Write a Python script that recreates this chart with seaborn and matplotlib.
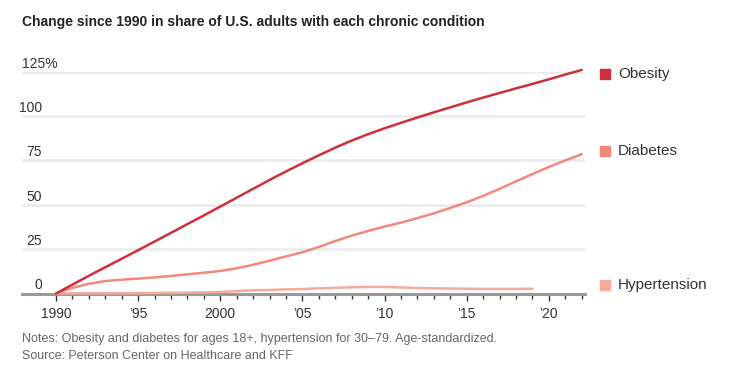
import matplotlib
matplotlib.use("Agg")
import matplotlib.pyplot as plt
import matplotlib.transforms as mtransforms
import pandas as pd
import seaborn as sns

# Values (percent change since 1990)
years = list(range(1990, 2023))
obesity = [0, 5, 10, 14.8, 19.6, 24.4, 29.3, 34.2, 39.1, 44, 49, 54, 59, 64,
           68.8, 73.4, 77.9, 82.2, 86.2, 89.8, 93.1, 96.2, 99.2, 102.1, 104.9,
           107.7, 110.4, 113, 115.6, 118.1, 120.7, 123.4, 126]
diabetes = [0, 3.2, 5.5, 7, 7.8, 8.4, 9.1, 9.9, 10.8, 11.7, 12.7, 14.2, 16.2,
            18.5, 20.9, 23.3, 26.2, 29.6, 32.6, 35.3, 37.7, 40, 42.5, 45.2,
            48.2, 51.4, 55, 59, 63.2, 67.3, 71.3, 75, 78.5]
hyper_years = list(range(1990, 2020))
hypertension = [0, 0.1, 0.1, 0.1, 0.1, 0.2, 0.3, 0.4, 0.5, 0.6, 0.8, 1.4, 1.8,
                2.0, 2.3, 2.5, 2.9, 3.2, 3.5, 3.7, 3.7, 3.4, 3.1, 2.9, 2.8, 2.7,
                2.6, 2.6, 2.6, 2.7]

conditions = ["Obesity", "Diabetes", "Hypertension"]
colors = {"Obesity": "#cf2e3d", "Diabetes": "#f3887a", "Hypertension": "#f6aa9a"}
y_ticks = [0, 25, 50, 75, 100, 125]
x_ticks = [1990, 1995, 2000, 2005, 2010, 2015, 2020]
x_labels = ["1990", "\u201995", "2000", "\u201905", "\u201910", "\u201915", "\u201920"]

df = pd.concat([
    pd.DataFrame({"year": years, "value": obesity, "condition": "Obesity"}),
    pd.DataFrame({"year": years, "value": diabetes, "condition": "Diabetes"}),
    pd.DataFrame({"year": hyper_years, "value": hypertension, "condition": "Hypertension"}),
])

sns.set_theme(style="white")
plt.rcParams["font.family"] = ["Liberation Sans", "DejaVu Sans"]

fig = plt.figure(figsize=(7.34, 3.76), dpi=100)
ax = fig.add_axes([22 / 734, 1 - 293.5 / 376, 563 / 734, (293.5 - 71.7) / 376])

sns.lineplot(data=df, x="year", y="value", hue="condition",
             hue_order=conditions[::-1], palette=colors, linewidth=1.8,
             legend=False, ax=ax, clip_on=False)

ax.set_xlim(1987.93, 2022.2)
ax.set_ylim(0, 125)
ax.set_xlabel("")
ax.set_ylabel("")

# gridlines
for v in y_ticks[1:]:
    ax.axhline(v, color="#ececec", linewidth=2, zorder=0)

for s in ["top", "right", "left"]:
    ax.spines[s].set_visible(False)
ax.spines["bottom"].set_color("#999999")
ax.spines["bottom"].set_linewidth(2.2)
ax.spines["bottom"].set_zorder(1)

ax.set_xticks(x_ticks)
ax.set_xticklabels(x_labels)
ax.set_xticks(range(1990, 2023), minor=True)
ax.tick_params(axis="x", which="major", length=5, width=1, color="#333333",
               labelsize=10, labelcolor="#333333", pad=5, bottom=True)
ax.tick_params(axis="x", which="minor", length=3.5, width=1, color="#333333",
               bottom=True)
ax.set_yticks([])

# y labels sit above the gridlines
trans = mtransforms.blended_transform_factory(ax.transAxes, ax.transData)
for v in y_ticks:
    if v == 125:
        ax.text(0.0, v + 0.6, "125%", transform=trans, ha="left", va="bottom",
                fontsize=10, color="#333333")
    else:
        ax.text(20 / 563, v + 0.6, str(v), transform=trans, ha="right",
                va="bottom", fontsize=10, color="#333333")

# end labels
ends = {"Obesity": 123.5, "Diabetes": 80.5, "Hypertension": 5}
for c in conditions:
    ax.plot([1.0355], [ends[c]], marker="s", markersize=7.5, color=colors[c],
            transform=trans, clip_on=False)
    ax.text(1.0586, ends[c], c, transform=trans, ha="left", va="center",
            fontsize=11, color="#333333")

fig.text(22 / 734, 1 - 22 / 376, "Change since 1990 in share of U.S. adults with each chronic condition",
         ha="left", va="center", fontsize=10, fontweight="bold", color="#222222")
fig.text(22 / 734, 1 - 339 / 376,
         "Notes: Obesity and diabetes for ages 18+, hypertension for 30\u201379. Age-standardized.",
         ha="left", va="center", fontsize=9, color="#666666")
fig.text(22 / 734, 1 - 356 / 376, "Source: Peterson Center on Healthcare and KFF",
         ha="left", va="center", fontsize=9, color="#666666")

fig.savefig("out.png", dpi=100)
